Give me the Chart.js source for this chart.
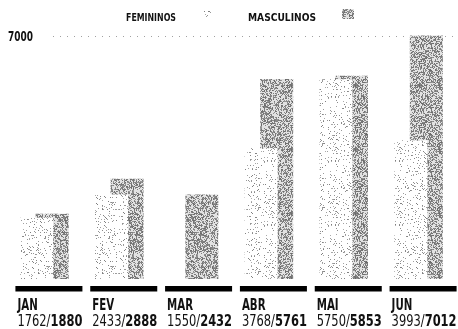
<!DOCTYPE html>
<html lang="pt">
<head>
  <meta charset="UTF-8">
  <title>Femininos / Masculinos</title>
  <script src="https://cdn.jsdelivr.net/npm/chart.js"></script>
  <style>
    html, body { margin: 0; padding: 0; background: #fff; }
    #chart { display: block; }
  </style>
</head>
<body>
  <canvas id="chart" width="458" height="329"></canvas>

  <script>
    const months = ['JAN', 'FEV', 'MAR', 'ABR', 'MAI', 'JUN'];
    const femininos = [1762, 2433, 1550, 3768, 5750, 3993];
    const masculinos = [1880, 2888, 2432, 5761, 5853, 7012];
    // no femininos bar is printed for MAR in the original
    const femininosBars = [1762, 2433, null, 3768, 5750, 3993];
    const gridValue = 7000;

    const FONT = '"Liberation Sans Narrow", "DejaVu Sans Condensed", "Roboto", sans-serif';

    // stipple textures (fixed seed so the picture is always the same)
    let seed = 12345;
    function rnd() {
      seed = (seed * 1103515245 + 12345) & 0x7fffffff;
      return seed / 0x7fffffff;
    }
    function stipple(density, dark, light) {
      const c = document.createElement('canvas');
      c.width = 64; c.height = 64;
      const g = c.getContext('2d');
      g.fillStyle = '#fff';
      g.fillRect(0, 0, 64, 64);
      for (let y = 0; y < 64; y++) {
        for (let x = 0; x < 64; x++) {
          const r = rnd();
          if (r < density) {
            const v = dark + Math.floor(rnd() * 50);
            g.fillStyle = 'rgb(' + v + ',' + v + ',' + v + ')';
            g.fillRect(x, y, 1, 1);
          } else if (light) {
            g.fillStyle = light;
            g.fillRect(x, y, 1, 1);
          }
        }
      }
      return g.createPattern(c, 'repeat');
    }
    const ctx0 = document.getElementById('chart').getContext('2d');
    const femPattern = stipple(0.09, 125, null);
    const mascPattern = stipple(0.5, 105, '#e2e2e2');

    // draws text squeezed horizontally; fit = wanted width in px
    function text(ctx, str, x, y, font, fit) {
      ctx.save();
      ctx.font = font;
      const w = ctx.measureText(str).width;
      const sx = fit ? Math.min(1, fit / w) : 1;
      ctx.translate(x, y);
      ctx.scale(sx, 1);
      ctx.fillText(str, 0, 0);
      ctx.restore();
      return w * sx;
    }

    const decorations = {
      id: 'decorations',
      beforeDatasetsDraw(chart) {
        const ctx = chart.ctx;
        const y = chart.scales.y.getPixelForValue(gridValue);
        ctx.save();
        ctx.strokeStyle = '#a0a0a0';
        ctx.lineWidth = 1;
        ctx.setLineDash([1, 6]);
        ctx.beginPath();
        ctx.moveTo(53, Math.round(y) + 0.5);
        ctx.lineTo(chart.chartArea.right, Math.round(y) + 0.5);
        ctx.stroke();
        ctx.restore();
      },
      afterDraw(chart) {
        const ctx = chart.ctx;
        const xs = chart.scales.x;
        const ys = chart.scales.y;
        ctx.save();
        ctx.fillStyle = '#111';
        ctx.textBaseline = 'alphabetic';

        // value label of the gridline
        text(ctx, String(gridValue), 8, ys.getPixelForValue(gridValue) + 5, 'bold 14px ' + FONT, 25);

        // legend
        text(ctx, chart.data.datasets[0].label, 126, 20.5, 'bold 11px ' + FONT, 50);
        text(ctx, chart.data.datasets[1].label, 248, 20.5, 'bold 11px ' + FONT, 68);
        ctx.fillStyle = femPattern;
        ctx.fillRect(204, 11, 9, 7);
        ctx.fillStyle = mascPattern;
        ctx.fillRect(342, 9, 12, 10);

        // month squeeze taken from the widest label
        ctx.font = 'bold 16px ' + FONT;
        const monthScale = 26 / ctx.measureText('MAR').width;

        // underline, month and values under each group
        const base = chart.chartArea.bottom;
        months.forEach((m, i) => {
          const cx = xs.getPixelForValue(i) + 4.5;
          const left = cx - 33.5;
          ctx.fillStyle = '#000';
          ctx.fillRect(left, base + 7, 67, 5.5);
          ctx.fillStyle = '#111';
          ctx.font = 'bold 16px ' + FONT;
          text(ctx, m, left + 2, base + 31, 'bold 16px ' + FONT, ctx.measureText(m).width * monthScale);

          // "1762/" regular, "1880" bold, together about 65px wide
          ctx.font = '16px ' + FONT;
          const a = ctx.measureText(femininos[i] + '/').width;
          ctx.font = 'bold 16px ' + FONT;
          const b = ctx.measureText(String(masculinos[i])).width;
          const k = 65 / (a + b);
          const w = text(ctx, femininos[i] + '/', left + 2, base + 46.5, '16px ' + FONT, a * k);
          text(ctx, String(masculinos[i]), left + 2 + w, base + 46.5, 'bold 16px ' + FONT, b * k);
        });
        ctx.restore();
      }
    };

    new Chart(ctx0, {
      type: 'bar',
      data: {
        labels: months,
        datasets: [
          {
            label: 'FEMININOS',
            data: femininosBars,
            backgroundColor: femPattern,
            borderWidth: 0,
            categoryPercentage: 0.414,
            barPercentage: 2.13
          },
          {
            label: 'MASCULINOS',
            data: masculinos,
            backgroundColor: mascPattern,
            borderWidth: 0,
            categoryPercentage: 0.414,
            barPercentage: 2.13
          }
        ]
      },
      options: {
        responsive: false,
        animation: false,
        layout: { padding: { left: 7, right: 2, top: 29, bottom: 50 } },
        plugins: {
          legend: { display: false },
          tooltip: { enabled: false }
        },
        scales: {
          x: { display: false },
          y: { display: false, min: 0, max: 7200 }
        }
      },
      plugins: [decorations]
    });
  </script>
</body>
</html>
